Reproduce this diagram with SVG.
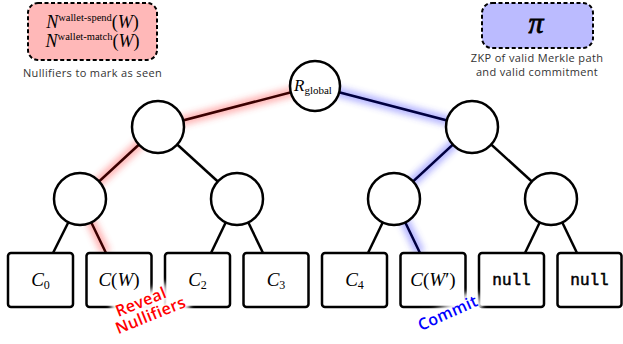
<svg xmlns="http://www.w3.org/2000/svg" width="623" height="344" viewBox="0 0 623 344">
  <defs>
    <filter id="glow" x="-20%" y="-20%" width="140%" height="140%">
      <feGaussianBlur stdDeviation="3.5"/>
    </filter>
    <filter id="halo" x="-30%" y="-50%" width="160%" height="200%">
      <feGaussianBlur stdDeviation="2.5"/>
    </filter>
    <style>
      .edge { stroke: #000; stroke-width: 2.5; fill: none; }
      .glow-red { stroke: #ff3030; stroke-width: 9; opacity: 0.4; fill: none; filter: url(#glow); }
      .glow-blue { stroke: #3030ff; stroke-width: 9; opacity: 0.4; fill: none; filter: url(#glow); }
      .core-red { stroke: #3a0000; stroke-width: 2.5; fill: none; }
      .core-blue { stroke: #000040; stroke-width: 2.5; fill: none; }
      .node { fill: #fff; stroke: #000; stroke-width: 2.5; }
      .leaf { fill: #fff; stroke: #000; stroke-width: 2.5; }
      .math { font-family: "Liberation Serif", "DejaVu Serif", serif; font-style: italic; fill: #000; }
      .rm { font-family: "Liberation Serif", "DejaVu Serif", serif; font-style: normal; }
      .tt { font-family: "Liberation Mono", "DejaVu Sans Mono", monospace; font-size: 16px; fill: #000; stroke: #000; stroke-width: 0.5; }
      .cap { font-family: "Open Sans", "DejaVu Sans", sans-serif; font-size: 11px; letter-spacing: 0.35px; fill: #333; }
      .tag { font-family: "Open Sans", "DejaVu Sans", sans-serif; font-size: 16px; font-weight: 600; letter-spacing: 0.4px; }
      .tag-halo { stroke: #fff; stroke-width: 9; stroke-linejoin: round; fill: #fff; filter: url(#halo); }
    </style>
  </defs>

  <!-- connectors -->
  <g id="connectors">
    <line class="edge" x1="158" y1="127" x2="237" y2="199"/>
    <line class="edge" x1="472" y1="127" x2="551" y2="199"/>
    <line class="edge" x1="80" y1="199" x2="53" y2="253"/>
    <line class="edge" x1="237" y1="199" x2="211" y2="253"/>
    <line class="edge" x1="237" y1="199" x2="263" y2="253"/>
    <line class="edge" x1="394" y1="199" x2="368" y2="253"/>
    <line class="edge" x1="551" y1="199" x2="525" y2="253"/>
    <line class="edge" x1="551" y1="199" x2="577" y2="253"/>
    <!-- revealed path -->
    <polyline class="glow-red" points="315,86 158,127 80,199 106,253"/>
    <polyline class="core-red" points="315,86 158,127 80,199 106,253"/>
    <!-- committed path -->
    <polyline class="glow-blue" points="315,86 472,127 394,199 420,253"/>
    <polyline class="core-blue" points="315,86 472,127 394,199 420,253"/>
  </g>

  <!-- inner nodes -->
  <g id="root">
    <circle class="node" cx="315" cy="86" r="25"/>
    <text class="math" x="294" y="91" font-size="17">R<tspan class="rm" font-size="11" dy="3">global</tspan></text>
  </g>
  <g id="n1-left"><circle class="node" cx="158" cy="127" r="26"/></g>
  <g id="n1-right"><circle class="node" cx="472" cy="127" r="26"/></g>
  <g id="n2-a"><circle class="node" cx="80" cy="199" r="26"/></g>
  <g id="n2-b"><circle class="node" cx="237" cy="199" r="26"/></g>
  <g id="n2-c"><circle class="node" cx="394" cy="199" r="26"/></g>
  <g id="n2-d"><circle class="node" cx="551" cy="199" r="26"/></g>

  <!-- leaves -->
  <g id="leaf-c0">
    <rect class="leaf" x="8" y="253" width="65" height="54" rx="3"/>
    <text class="math" x="40.5" y="286" font-size="19" text-anchor="middle">C<tspan class="rm" font-size="12" dy="3">0</tspan></text>
  </g>
  <g id="leaf-cw">
    <rect class="leaf" x="86.5" y="253" width="65" height="54" rx="3" stroke="#ff0000"/>
    <text class="math" x="119" y="286" font-size="19" text-anchor="middle">C<tspan class="rm">(</tspan>W<tspan class="rm">)</tspan></text>
  </g>
  <g id="leaf-c2">
    <rect class="leaf" x="165" y="253" width="65" height="54" rx="3"/>
    <text class="math" x="197.5" y="286" font-size="19" text-anchor="middle">C<tspan class="rm" font-size="12" dy="3">2</tspan></text>
  </g>
  <g id="leaf-c3">
    <rect class="leaf" x="243.5" y="253" width="65" height="54" rx="3"/>
    <text class="math" x="276" y="286" font-size="19" text-anchor="middle">C<tspan class="rm" font-size="12" dy="3">3</tspan></text>
  </g>
  <g id="leaf-c4">
    <rect class="leaf" x="322" y="253" width="65" height="54" rx="3"/>
    <text class="math" x="354.5" y="286" font-size="19" text-anchor="middle">C<tspan class="rm" font-size="12" dy="3">4</tspan></text>
  </g>
  <g id="leaf-cw2">
    <rect class="leaf" x="400.5" y="253" width="65" height="54" rx="3" stroke="#0000ff"/>
    <text class="math" x="433" y="286" font-size="19" text-anchor="middle">C<tspan class="rm">(</tspan>W<tspan class="rm">′)</tspan></text>
  </g>
  <g id="leaf-null1">
    <rect class="leaf" x="479" y="253" width="65" height="54" rx="3"/>
    <text class="tt" x="511.5" y="285" text-anchor="middle">null</text>
  </g>
  <g id="leaf-null2">
    <rect class="leaf" x="557.5" y="253" width="64" height="54" rx="3"/>
    <text class="tt" x="589.5" y="285" text-anchor="middle">null</text>
  </g>

  <!-- path labels -->
  <g id="label-reveal" transform="translate(143,307) rotate(-22)">
    <text class="tag tag-halo" x="0" y="0" text-anchor="middle">Reveal</text>
    <text class="tag tag-halo" x="4" y="16" text-anchor="middle">Nullifiers</text>
    <text class="tag" x="0" y="0" text-anchor="middle" fill="#ff0000">Reveal</text>
    <text class="tag" x="4" y="16" text-anchor="middle" fill="#ff0000">Nullifiers</text>
  </g>
  <g id="label-commit" transform="translate(450,318) rotate(-24)">
    <text class="tag tag-halo" x="0" y="0" text-anchor="middle">Commit</text>
    <text class="tag" x="0" y="0" text-anchor="middle" fill="#0000ff">Commit</text>
  </g>

  <!-- nullifier box -->
  <g id="nullifiers">
    <rect x="28" y="3" width="129" height="57" rx="10" fill="#ffb8b8" stroke="#000" stroke-width="2" stroke-dasharray="4,2.5"/>
    <text class="math" x="92.5" y="28" font-size="18" text-anchor="middle">N<tspan class="rm" font-size="10.5" dy="-7">wallet-spend</tspan><tspan class="rm" dy="7">(</tspan>W<tspan class="rm">)</tspan></text>
    <text class="math" x="92.5" y="47" font-size="18" text-anchor="middle">N<tspan class="rm" font-size="10.5" dy="-7">wallet-match</tspan><tspan class="rm" dy="7">(</tspan>W<tspan class="rm">)</tspan></text>
    <text class="cap" x="92.5" y="77" text-anchor="middle">Nullifiers to mark as seen</text>
  </g>

  <!-- proof box -->
  <g id="proof">
    <rect x="482" y="3" width="111" height="45" rx="10" fill="#bbbbff" stroke="#000" stroke-width="2" stroke-dasharray="4,2.5"/>
    <text x="536" y="33" font-family="Liberation Serif, serif" font-style="italic" font-size="30" text-anchor="middle" fill="#000" stroke="#000" stroke-width="0.8">π</text>
    <text class="cap" x="537" y="62" text-anchor="middle">ZKP of valid Merkle path</text>
    <text class="cap" x="537" y="76" text-anchor="middle">and valid commitment</text>
  </g>
</svg>
